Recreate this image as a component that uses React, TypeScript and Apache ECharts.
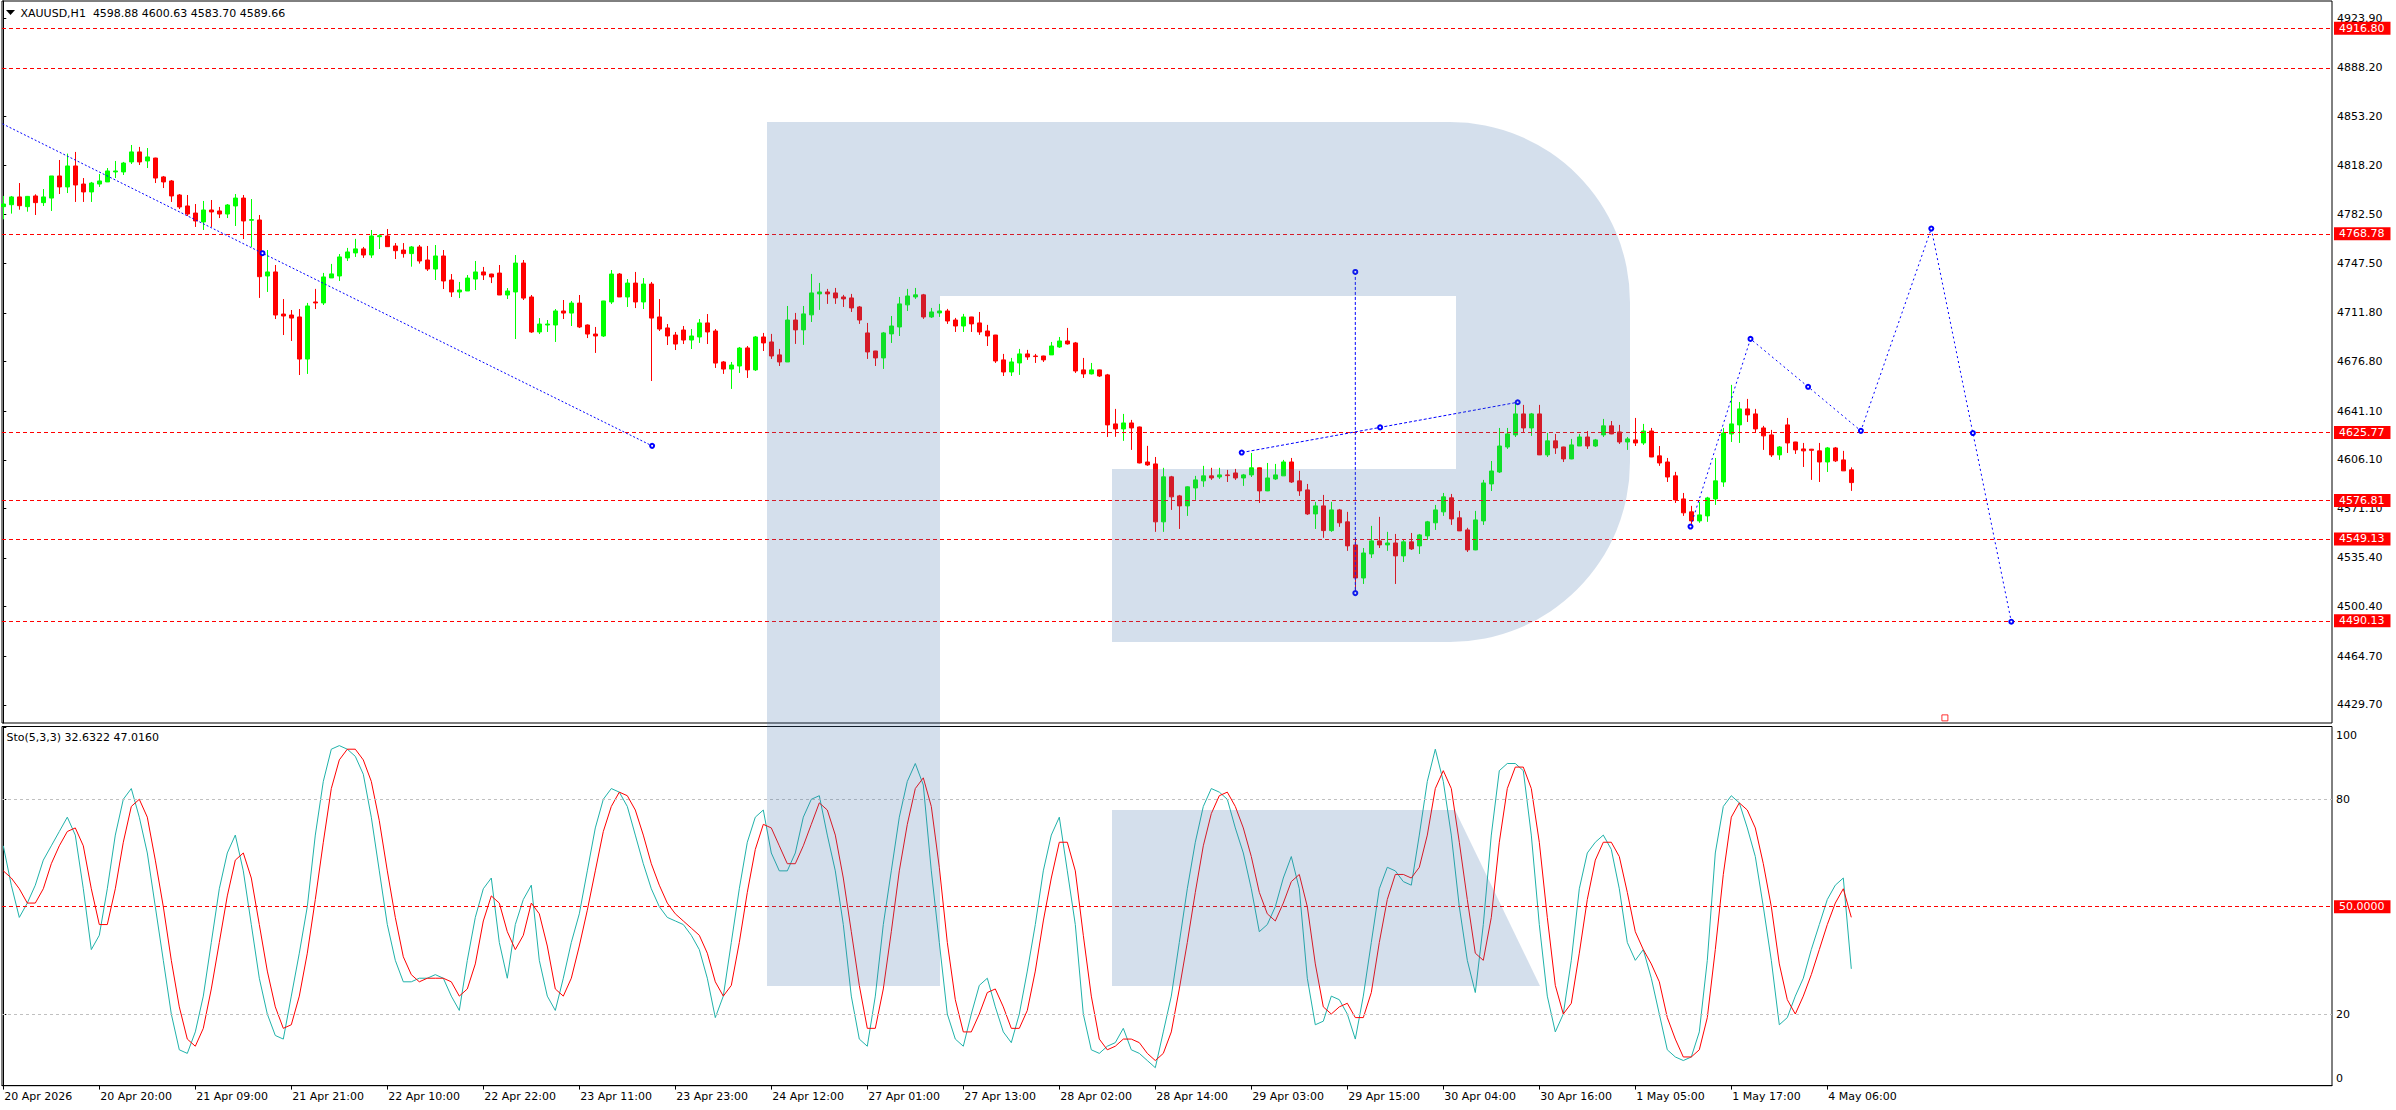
import React, { useEffect, useRef } from "react";
import * as echarts from "echarts";

// ---------- DATA ----------
const opens = [
4788.3,4789.7,4795.3,4788.3,4796.0,4791.2,4794.5,4810.4,4802.5,4817.6,
4804.6,4798.9,4804.6,4806.1,4813.3,4813.3,4820.5,4827.7,4821.2,4823.3,
4809.7,4806.8,4796.7,4788.8,4783.7,4777.3,4785.9,4785.2,4783.0,4788.8,
4794.5,4778.5,4778.7,4738.4,4741.3,4711.0,4710.3,4708.9,4678.6,4719.7,
4719.0,4737.0,4738.4,4751.4,4755.0,4757.9,4753.5,4766.7,4767.2,4760.0,
4757.1,4754.5,4759.3,4749.9,4743.4,4752.8,4735.5,4726.9,4727.6,4736.2,
4741.3,4739.8,4740.5,4724.7,4726.9,4747.7,4723.3,4698.1,4703.1,4703.1,
4713.2,4711.7,4718.9,4703.1,4696.6,4695.2,4719.7,4739.8,4723.3,4733.3,
4719.7,4732.6,4708.9,4701.0,4695.9,4699.5,4692.3,4694.5,4704.6,4698.8,
4676.5,4671.4,4673.6,4686.6,4670.8,4694.5,4690.9,4681.6,4676.5,4706.7,
4699.6,4710.4,4725.5,4726.9,4726.2,4723.3,4722.6,4716.1,4697.4,4684.4,
4679.4,4696.7,4701.7,4717.6,4723.3,4724.8,4708.9,4711.8,4713.2,4706.7,
4702.4,4708.9,4704.6,4698.8,4695.9,4678.0,4669.3,4675.8,4682.3,4680.8,
4680.8,4681.6,4687.3,4691.6,4690.2,4670.8,4667.9,4670.8,4667.2,4631.9,
4628.3,4632.6,4629.7,4604.5,4603.1,4561.4,4593.8,4580.1,4572.9,4585.8,
4590.9,4594.5,4593.7,4595.2,4596.6,4593.0,4595.2,4600.3,4583.7,4592.3,
4594.5,4604.5,4590.9,4584.4,4567.1,4572.9,4555.1,4570.0,4561.4,4544.8,
4521.0,4538.3,4547.7,4544.8,4546.2,4536.9,4547.0,4544.1,4551.3,4560.7,
4568.6,4578.7,4564.3,4555.6,4541.2,4562.1,4588.7,4597.3,4615.3,4624.0,
4639.1,4629.0,4639.1,4609.6,4619.7,4615.3,4606.7,4616.0,4622.5,4616.0,
4624.0,4630.5,4626.1,4618.9,4620.4,4618.2,4626.8,4608.9,4604.5,4594.5,
4577.9,4568.6,4562.1,4565.7,4577.9,4590.1,4624.7,4631.2,4642.7,4639.1,
4629.0,4624.0,4609.6,4631.2,4618.9,4613.9,4613.7,4612.5,4604.5,4614.6,
4606.0,4598.88];
const highs = [
4796.0,4796.0,4805.3,4796.0,4797.2,4801.0,4810.4,4821.9,4826.5,4827.7,
4808.9,4806.1,4811.8,4816.1,4821.2,4820.5,4832.7,4831.3,4830.5,4823.5,
4810.4,4807.5,4797.4,4796.7,4790.2,4792.4,4793.1,4788.1,4790.2,4797.4,
4796.7,4793.8,4782.3,4757.1,4746.3,4721.8,4713.9,4714.6,4719.0,4729.1,
4740.6,4747.1,4754.2,4758.6,4765.1,4759.3,4771.5,4768.4,4772.2,4762.1,
4762.1,4760.0,4760.7,4760.0,4760.7,4757.1,4739.8,4734.1,4739.1,4749.2,
4744.9,4740.0,4746.3,4729.7,4753.5,4749.9,4724.7,4708.1,4706.7,4714.6,
4721.1,4720.4,4724.7,4703.5,4701.7,4720.5,4742.7,4740.5,4736.2,4741.3,
4736.9,4734.1,4721.8,4703.8,4698.1,4702.4,4700.2,4707.4,4711.0,4700.2,
4677.2,4676.5,4687.3,4688.0,4695.2,4697.4,4696.7,4685.9,4716.8,4711.8,
4716.8,4739.9,4733.4,4729.1,4729.8,4724.8,4725.5,4716.8,4704.6,4684.5,
4698.1,4709.6,4723.3,4729.1,4729.8,4725.5,4715.4,4718.3,4714.7,4708.2,
4711.1,4709.0,4712.5,4703.2,4696.0,4682.3,4679.4,4685.9,4685.2,4682.3,
4681.0,4690.9,4694.5,4701.0,4690.9,4679.4,4675.8,4671.0,4667.9,4642.7,
4639.1,4634.8,4630.0,4616.1,4608.1,4600.3,4594.5,4580.8,4587.0,4594.5,
4601.7,4600.3,4600.3,4598.8,4599.5,4595.9,4611.0,4600.5,4603.8,4603.1,
4606.0,4607.4,4598.1,4588.7,4575.8,4580.8,4575.8,4570.7,4568.6,4549.9,
4542.6,4558.5,4565.0,4554.2,4552.7,4548.4,4553.4,4552.7,4562.1,4573.6,
4582.2,4581.5,4569.3,4557.1,4569.3,4591.6,4605.2,4629.0,4629.0,4647.7,
4645.6,4639.8,4645.6,4625.4,4624.7,4615.5,4621.1,4624.7,4626.8,4621.1,
4635.5,4634.0,4631.2,4622.5,4636.2,4631.9,4629.0,4616.0,4607.4,4597.4,
4582.2,4572.9,4575.8,4579.4,4607.4,4629.0,4660.0,4647.7,4649.9,4642.7,
4630.5,4627.6,4616.0,4636.2,4619.0,4618.2,4613.9,4618.2,4615.3,4615.3,
4612.5,4600.63];
const lows = [
4779.2,4783.3,4786.1,4784.7,4782.3,4788.8,4785.2,4797.4,4798.1,4791.7,
4791.7,4791.7,4802.5,4806.1,4808.9,4811.1,4819.0,4818.3,4816.1,4805.3,
4801.7,4791.7,4786.6,4781.6,4773.7,4771.5,4773.7,4780.1,4780.1,4774.4,
4765.0,4759.3,4722.6,4726.9,4707.4,4695.9,4691.6,4667.1,4667.9,4714.6,
4717.5,4737.0,4734.8,4749.2,4752.1,4751.4,4751.4,4757.8,4759.3,4750.6,
4751.6,4745.1,4747.3,4742.0,4735.5,4729.0,4723.3,4722.5,4727.6,4728.3,
4735.5,4733.3,4724.7,4721.8,4693.0,4721.1,4697.4,4696.6,4698.1,4690.9,
4707.4,4702.4,4700.9,4693.7,4683.0,4694.5,4718.2,4723.3,4716.1,4715.3,
4714.6,4662.8,4698.8,4688.7,4685.1,4689.4,4685.8,4690.2,4689.4,4672.2,
4667.9,4657.1,4668.6,4665.0,4670.0,4684.4,4678.7,4673.6,4676.5,4689.5,
4688.8,4705.3,4714.0,4718.3,4718.3,4716.1,4712.5,4703.9,4678.7,4673.6,
4671.5,4690.2,4695.2,4713.2,4721.9,4707.5,4708.2,4708.9,4703.9,4698.1,
4698.1,4698.1,4696.0,4688.0,4675.8,4666.4,4666.4,4667.2,4678.0,4675.8,
4676.5,4681.5,4686.6,4689.0,4668.6,4665.0,4667.5,4665.7,4622.5,4622.6,
4619.7,4613.2,4603.5,4601.7,4554.2,4554.2,4570.0,4556.3,4565.7,4577.2,
4586.6,4591.6,4592.3,4590.1,4591.6,4587.3,4593.7,4575.0,4583.5,4591.6,
4594.5,4589.4,4580.1,4566.4,4556.3,4549.9,4554.2,4557.8,4540.5,4511.7,
4516.7,4535.4,4542.6,4540.5,4516.7,4532.5,4541.2,4538.3,4548.4,4555.6,
4565.7,4559.2,4554.8,4539.7,4541.0,4559.2,4583.6,4596.6,4613.9,4622.5,
4626.1,4623.3,4609.5,4608.1,4610.3,4604.5,4606.5,4616.0,4613.9,4615.3,
4622.5,4624.5,4617.5,4613.2,4616.0,4616.8,4608.0,4601.7,4590.1,4575.0,
4565.7,4559.9,4560.7,4561.4,4573.6,4586.6,4618.9,4618.2,4633.3,4626.1,
4613.2,4608.1,4606.0,4611.0,4610.3,4600.9,4591.6,4590.1,4597.3,4604.5,
4598.0,4583.70];
const closes = [
4790.2,4795.3,4789.0,4795.7,4791.2,4795.3,4810.4,4802.5,4817.6,4803.9,
4798.9,4805.3,4806.8,4814.0,4814.0,4819.7,4827.7,4820.5,4824.1,4808.9,
4806.1,4796.0,4788.1,4783.0,4778.0,4785.9,4784.5,4783.0,4789.5,4794.5,
4778.0,4779.0,4737.9,4741.3,4710.3,4709.6,4708.1,4678.6,4716.8,4719.0,
4737.7,4739.9,4752.1,4755.7,4757.9,4753.5,4767.2,4767.4,4759.5,4756.6,
4754.5,4759.3,4749.2,4743.4,4752.8,4734.8,4726.9,4728.3,4736.9,4741.3,
4739.1,4737.7,4724.7,4727.6,4747.7,4722.5,4698.1,4703.8,4703.8,4713.2,
4711.7,4718.9,4701.7,4696.6,4695.2,4720.4,4739.8,4723.3,4733.3,4719.7,
4732.6,4708.1,4700.2,4695.2,4689.4,4692.3,4695.2,4704.6,4698.1,4675.7,
4671.4,4674.3,4686.5,4670.8,4694.5,4690.2,4680.8,4676.5,4706.7,4699.6,
4711.1,4726.2,4726.9,4725.5,4722.6,4721.9,4715.4,4706.7,4683.7,4679.4,
4697.4,4702.4,4718.3,4724.0,4724.8,4708.9,4712.5,4713.2,4706.0,4702.4,
4708.9,4703.9,4698.1,4695.2,4677.2,4669.3,4676.5,4682.3,4680.1,4680.4,
4678.0,4688.0,4691.6,4689.5,4670.0,4667.9,4670.8,4666.4,4631.2,4628.3,
4632.6,4629.0,4603.8,4602.4,4561.4,4593.8,4579.4,4572.9,4586.6,4591.6,
4594.5,4593.0,4595.2,4594.7,4593.0,4595.2,4600.3,4583.7,4593.0,4595.2,
4604.5,4590.1,4583.7,4567.1,4572.9,4555.1,4570.0,4560.7,4544.1,4521.0,
4539.0,4547.7,4544.8,4546.2,4536.9,4547.0,4541.9,4552.0,4561.4,4570.0,
4579.4,4563.5,4554.9,4541.2,4562.8,4589.4,4598.0,4616.0,4624.7,4639.1,
4629.0,4639.1,4609.6,4619.7,4614.6,4606.7,4616.8,4622.5,4616.0,4620.4,
4630.5,4624.7,4618.9,4621.1,4618.2,4626.8,4608.1,4603.8,4593.7,4577.2,
4567.9,4562.1,4566.4,4578.6,4590.9,4625.4,4631.9,4642.7,4638.4,4628.3,
4623.3,4609.6,4615.3,4618.2,4613.2,4612.5,4612.9,4604.5,4614.6,4605.3,
4598.1,4589.66];

const stochK = [
67,56,47,51,56,63,67,71,75,70,
55,38,42,55,70,80,83,75,65,50,
35,20,10,9,15,25,40,55,65,70,
60,45,30,20,14,13,25,37,50,70,
85,94,95,94,92,87,75,60,45,35,
29,29,30,30,31,30,25,21,35,47,
55,58,40,30,45,52,56,35,25,21,
30,40,48,60,72,80,83,82,78,70,
62,55,50,47,46,45,42,38,30,19,
25,40,55,68,75,77,65,60,60,65,
75,80,81,70,60,45,25,13,11,25,
45,60,75,85,90,84,60,40,20,13,
11,20,28,30,22,15,12,20,32,45,
60,70,75,60,45,20,10,9,11,12,
16,10,9,7,5,15,25,40,55,68,
78,83,82,80,72,65,55,43,45,50,
58,64,55,30,17,18,25,24,20,13,
25,40,55,61,60,57,56,70,85,94,
85,70,50,35,26,45,70,88,90,90,
88,70,45,25,15,20,35,55,65,68,
70,66,55,40,35,38,30,20,10,8,
7,8,15,35,65,78,81,79,72,64,
50,35,17,19,25,30,38,45,52,56,
58,32.63];
const stochD = [
60,58,55,51,51,55,62,67,71,72,
67,55,45,45,55,68,78,80,75,63,
50,35,22,13,11,16,27,40,53,63,
65,58,45,32,22,16,17,25,37,52,
68,83,91,94,94,91,85,74,60,47,
36,31,29,30,30,30,29,25,27,34,
46,53,51,43,38,42,51,48,39,27,
25,30,39,49,60,71,78,82,81,77,
70,62,56,51,48,46,44,42,37,29,
25,28,40,54,66,73,72,67,62,62,
67,73,79,77,70,58,43,28,16,16,
27,43,60,73,83,86,78,61,40,24,
15,15,20,26,27,22,16,16,21,32,
46,58,68,68,60,42,25,13,10,11,
13,13,12,9,7,9,15,27,40,54,
67,76,81,82,78,72,64,54,48,46,
51,57,59,50,34,22,20,22,23,19,
19,26,40,52,59,59,58,61,70,83,
88,83,68,52,37,35,47,68,83,89,
89,83,68,47,28,20,23,37,52,63,
68,68,64,54,43,38,34,29,19,13,
8,8,10,19,38,59,75,79,77,72,
62,50,34,24,20,25,31,38,45,51,
55,47.02];

const timeLabels = ["20 Apr 2026","20 Apr 20:00","21 Apr 09:00","21 Apr 21:00","22 Apr 10:00","22 Apr 22:00","23 Apr 11:00","23 Apr 23:00","24 Apr 12:00","27 Apr 01:00","27 Apr 13:00","28 Apr 02:00","28 Apr 14:00","29 Apr 03:00","29 Apr 15:00","30 Apr 04:00","30 Apr 16:00","1 May 05:00","1 May 17:00","4 May 06:00"];
const barsPerLabel = 12;
const priceTicks = [4923.90,4888.20,4853.20,4818.20,4782.50,4747.50,4711.80,4676.80,4641.10,4606.10,4571.10,4535.40,4500.40,4464.70,4429.70];
const levels = [4916.80,4888.20,4768.78,4625.77,4576.81,4549.13,4490.13];
const levelLabelShown = [true,false,true,true,true,true,true];
const lastPrice = 4589.66;
const stochTicks = [0,20,80,100];

// drawn objects (bar index, price, anchor flag)
const trendLine = [[-1,4850.5,0],[32.4,4754.8,1],[81.1,4616.1,1]];
const verticalLine = [[169,4741.3,1],[169,4510.1,1]];
const riseLine = [[154.8,4611.3,1],[172.1,4629.4,1],[189.3,4647.5,1]];
const forecastLine = [[210.9,4558.0,1],[218.4,4693.1,1],[225.6,4658.6,1],[232.2,4626.9,1],[241.0,4772.5,1],[246.2,4625.3,1],[251.0,4489.5,1]];
const redMarker = [[242.7,4420.3]];

const header = "XAUUSD,H1  4598.88 4600.63 4583.70 4589.66";
const stochHeader = "Sto(5,3,3) 32.6322 47.0160";

// ---------- LAYOUT ----------
const FONT = "DejaVu Sans";
const X_MIN = -0.1625;
const X_MAX = 291.0875;
const LOGO_P = "M767 122 H1450 A180 180 0 0 1 1630 302 V462 A180 180 0 0 1 1450 642 H1112 V469 H1456 V296 H940 V986 H767 Z";
const LOGO_LEG = "M1112 810 H1455 L1540 986 H1112 Z";
const LOGO_FILL = "rgba(70,117,174,0.23)";

function lineSeries(pts: number[][], dash: number[]) {
  return {
    type: "line",
    xAxisIndex: 0,
    yAxisIndex: 0,
    data: pts.map((p) => ({ value: [p[0], p[1]], symbol: p[2] ? "emptyCircle" : "none" })),
    symbolSize: 4,
    showSymbol: true,
    showAllSymbol: true,
    lineStyle: { color: "#0000ff", width: 1, type: dash },
    itemStyle: { color: "#0000ff", borderWidth: 1 },
    z: 5,
    silent: true,
    clip: true,
  };
}

function buildOption() {
  const candleData = opens.map((o, i) => [i, o, closes[i], lows[i], highs[i]]);
  const redLabel = {
    show: true,
    position: "end",
    distance: 2,
    color: "#ffffff",
    backgroundColor: "#ff0000",
    padding: [1, 6, 0, 5],
    fontFamily: FONT,
    fontSize: 11,
    lineHeight: 12,
  };
  return {
    animation: false,
    backgroundColor: "#ffffff",
    textStyle: { fontFamily: FONT },
    grid: [
      { left: 2, top: 1, width: 2330, height: 722, show: true, borderColor: "#000", borderWidth: 1, backgroundColor: "#fff" },
      { left: 2, top: 726.5, width: 2330, height: 359.2, show: true, borderColor: "#000", borderWidth: 1, backgroundColor: "#fff" },
    ],
    xAxis: [
      { type: "value", gridIndex: 0, min: X_MIN, max: X_MAX, show: false },
      {
        type: "value",
        gridIndex: 1,
        min: X_MIN,
        max: X_MAX,
        position: "bottom",
        axisLine: { show: true, lineStyle: { color: "#000" } },
        axisTick: { show: true, length: 4, lineStyle: { color: "#000" }, customValues: timeLabels.map((_, k) => k * barsPerLabel) },
        axisLabel: {
          show: true,
          customValues: timeLabels.map((_, k) => k * barsPerLabel),
          formatter: (v: number) => timeLabels[Math.round(v / barsPerLabel)] ?? "",
          align: "left",
          margin: 5,
          color: "#000",
          fontFamily: FONT,
          fontSize: 11,
          padding: [0, 0, 0, 1],
        },
        splitLine: { show: false },
      },
    ],
    yAxis: [
      {
        type: "value",
        gridIndex: 0,
        min: 4416.6,
        max: 4936.35,
        position: "right",
        axisLine: { show: true, lineStyle: { color: "#000" } },
        axisTick: { show: true, inside: false, length: 3, lineStyle: { color: "#000" }, customValues: priceTicks },
        axisLabel: { show: true, customValues: priceTicks, formatter: (v: number) => v.toFixed(2), margin: 5, color: "#000", fontFamily: FONT, fontSize: 11 },
        splitLine: { show: false },
      },
      {
        type: "value",
        gridIndex: 1,
        min: -0.03,
        max: 100.34,
        position: "right",
        axisLine: { show: true, lineStyle: { color: "#000" } },
        axisTick: { show: true, inside: false, length: 3, lineStyle: { color: "#000" }, customValues: stochTicks },
        axisLabel: {
          show: true,
          customValues: [2.1, 20, 80, 97.9],
          formatter: (v: number) => (v < 10 ? "0" : v > 90 ? "100" : String(Math.round(v))),
          margin: 4,
          color: "#000",
          fontFamily: FONT,
          fontSize: 11,
        },
        splitLine: { show: false },
      },
    ],
    series: [
      {
        type: "candlestick",
        xAxisIndex: 0,
        yAxisIndex: 0,
        dimensions: ["x", "open", "close", "lowest", "highest"],
        encode: { x: 0, y: [1, 2, 3, 4] },
        data: candleData,
        barWidth: 4,
        clip: true,
        silent: true,
        itemStyle: { color: "#00ff00", color0: "#ff0000", borderColor: "#00ff00", borderColor0: "#ff0000", borderWidth: 1 },
        markLine: {
          silent: true,
          symbol: ["none", "none"],
          animation: false,
          emphasis: { disabled: true },
          lineStyle: { color: "#ff0000", type: [4, 3], width: 1 },
          label: { ...redLabel, formatter: (p: any) => Number(p.value).toFixed(2) },
          data: [
            ...levels.map((v, i) => ({ yAxis: v, label: { show: levelLabelShown[i] } })),
            { yAxis: lastPrice, lineStyle: { opacity: 0 }, label: { show: true, backgroundColor: "#000000" } },
          ],
        },
      },
      {
        type: "line",
        xAxisIndex: 1,
        yAxisIndex: 1,
        data: stochK.map((v, i) => [i, v]),
        showSymbol: false,
        lineStyle: { color: "#20b2aa", width: 1 },
        silent: true,
        z: 3,
        markLine: {
          silent: true,
          symbol: ["none", "none"],
          animation: false,
          emphasis: { disabled: true },
          data: [
            { yAxis: 80, lineStyle: { color: "#c0c0c0", type: [3, 3], width: 1 }, label: { show: false } },
            { yAxis: 20, lineStyle: { color: "#c0c0c0", type: [3, 3], width: 1 }, label: { show: false } },
            { yAxis: 50, lineStyle: { color: "#ff0000", type: [4, 3], width: 1 }, label: { ...redLabel, formatter: () => "50.0000" } },
          ],
        },
      },
      {
        type: "line",
        xAxisIndex: 1,
        yAxisIndex: 1,
        data: stochD.map((v, i) => [i, v]),
        showSymbol: false,
        lineStyle: { color: "#ff0000", width: 1 },
        silent: true,
        z: 3,
      },
      lineSeries(trendLine, [2, 2]),
      lineSeries(verticalLine, [3, 2]),
      lineSeries(riseLine, [3, 2]),
      lineSeries(forecastLine, [2, 3]),
      {
        type: "scatter",
        xAxisIndex: 0,
        yAxisIndex: 0,
        data: redMarker,
        symbol: "rect",
        symbolSize: 6,
        itemStyle: { color: "#ffffff", borderColor: "#ff0000", borderWidth: 1 },
        silent: true,
        z: 6,
      },
    ],
    graphic: [
      { type: "rfLogoP", x: 0, y: 0, z: 100, silent: true, style: { fill: LOGO_FILL } },
      { type: "rfLogoLeg", x: 0, y: 0, z: 100, silent: true, style: { fill: LOGO_FILL } },
      { type: "polygon", z: 101, silent: true, shape: { points: [[6, 10], [15, 10], [10.5, 15]] }, style: { fill: "#000" } },
      { type: "text", x: 20.5, y: 13, z: 101, silent: true, style: { text: header, fill: "#000", font: `11px "${FONT}"`, verticalAlign: "middle" } },
      { type: "text", x: 6.5, y: 737, z: 101, silent: true, style: { text: stochHeader, fill: "#000", font: `11px "${FONT}"`, verticalAlign: "middle" } },
    ],
  };
}

let shapesRegistered = false;
function registerShapes() {
  if (shapesRegistered) return;
  echarts.graphic.registerShape("rfLogoP", echarts.graphic.extendPath(LOGO_P, {}) as any);
  echarts.graphic.registerShape("rfLogoLeg", echarts.graphic.extendPath(LOGO_LEG, {}) as any);
  shapesRegistered = true;
}

export default function App() {
  const ref = useRef<HTMLDivElement>(null);
  useEffect(() => {
    if (!ref.current) return;
    registerShapes();
    const chart = echarts.init(ref.current, null, { renderer: "svg" });
    chart.setOption(buildOption() as any);
    return () => chart.dispose();
  }, []);
  return <div ref={ref} style={{ position: "fixed", left: 0, top: 0, width: 2396, height: 1110, background: "#fff" }} />;
}
